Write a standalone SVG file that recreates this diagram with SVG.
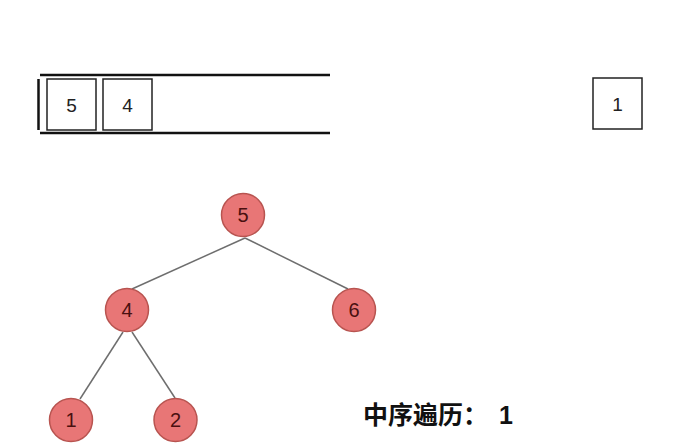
<svg xmlns="http://www.w3.org/2000/svg" width="695" height="448" viewBox="0 0 695 448">
<style>
.box{fill:#fff;stroke:#222;stroke-width:1.5}
.bt{font-family:"Liberation Sans",Arial,sans-serif;font-size:19px;fill:#222;text-anchor:middle}
.nd{fill:#e87676;stroke:#b85450;stroke-width:1.5}
.nt{font-family:"Liberation Sans",Arial,sans-serif;font-size:20px;fill:#4a1010;text-anchor:middle}
.ed{stroke:#6e6e6e;stroke-width:1.5;fill:none}
.ln{stroke:#111;stroke-width:2.5}
</style>
<rect width="695" height="448" fill="#fff"/>
<g id="stack">
<line class="ln" x1="40" y1="75" x2="330" y2="75"/>
<line class="ln" x1="40" y1="133" x2="330" y2="133"/>
<line class="ln" x1="38.5" y1="79" x2="38.5" y2="130"/>
</g>
<g id="s5"><rect class="box" x="47" y="79" width="49" height="51"/><text class="bt" x="71.5" y="111.5">5</text></g>
<g id="s4"><rect class="box" x="103" y="79" width="49" height="51"/><text class="bt" x="127.5" y="111.5">4</text></g>
<g id="out1"><rect class="box" x="593" y="78" width="49" height="51"/><text class="bt" x="617.5" y="110.5">1</text></g>
<g id="connectors">
<line class="ed" x1="245" y1="238" x2="132" y2="289"/>
<line class="ed" x1="245" y1="238" x2="348" y2="289"/>
<line class="ed" x1="123" y1="332" x2="80" y2="399"/>
<line class="ed" x1="132" y1="332" x2="175" y2="398"/>
</g>
<g id="n5"><circle class="nd" cx="243" cy="215" r="21.5"/><text class="nt" x="243" y="222">5</text></g>
<g id="n4"><circle class="nd" cx="127" cy="310" r="21.5"/><text class="nt" x="127" y="317">4</text></g>
<g id="n6"><circle class="nd" cx="354" cy="310" r="21.5"/><text class="nt" x="354" y="317">6</text></g>
<g id="n1"><circle class="nd" cx="71" cy="420" r="21.5"/><text class="nt" x="71" y="427">1</text></g>
<g id="n2"><circle class="nd" cx="175.5" cy="420" r="21.5"/><text class="nt" x="175.5" y="427">2</text></g>
<text id="result" x="363" y="424" font-family="'Liberation Sans','Noto Sans CJK SC',sans-serif" font-size="25" font-weight="bold" fill="#111">中序遍历：<tspan x="499">1</tspan></text>
</svg>
